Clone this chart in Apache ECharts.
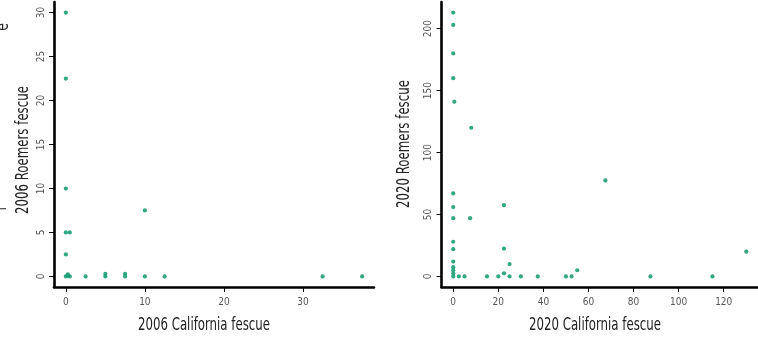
<!DOCTYPE html>
<html>
<head>
<meta charset="utf-8">
<script src="https://cdn.jsdelivr.net/npm/echarts@6/dist/echarts.min.js"></script>
<style>
  html, body { margin: 0; padding: 0; background: #fff; }
  #chart { width: 758px; height: 338px; }
</style>
</head>
<body>
<div id="chart"></div>
<script>
// 2006 survey: California fescue vs Roemers fescue cover
const x2006 = [0, 0, 0, 0, 0.5, 0, 0, 0.25, 0.5, 0.25, 2.5, 5, 5, 7.5, 7.5, 10, 12.5, 32.5, 37.5, 10];
const y2006 = [30, 22.5, 10, 5, 5, 2.5, 0, 0.25, 0, 0.1, 0, 0, 0.3, 0, 0.3, 0, 0, 0, 0, 7.5];

// 2020 survey
const x2020 = [0, 0, 0, 0, 0.5, 8, 0, 0, 0, 7.5, 0, 0, 0, 0, 0, 0, 0, 2.5, 5, 15, 20,
               22.5, 22.5, 22.5, 25, 25, 30, 37.5, 50, 52.5, 55, 67.5, 87.5, 115, 130];
const y2020 = [213, 203, 180, 160, 141, 120, 67, 56, 47, 47, 28, 22, 12, 7.5, 5, 2.5, 0, 0, 0, 0, 0,
               57.5, 22.5, 2.5, 10, 0, 0, 0, 0, 0, 5, 77.5, 0, 0, 20];

// Tick positions
const xTicks2006 = [0, 10, 20, 30];
const yTicks2006 = [0, 5, 10, 15, 20, 25, 30];
const xTicks2020 = [0, 20, 40, 60, 80, 100, 120];
const yTicks2020 = [0, 50, 100, 150, 200];

// Axis titles
const titles = {
  x2006: '2006 California fescue',
  y2006: '2006 Roemers fescue',
  x2020: '2020 California fescue',
  y2020: '2020 Roemers fescue'
};

const FONT = "'DejaVu Sans Condensed', 'Liberation Sans', sans-serif";
const POINT = '#1B9E77';
const TITLE_FONT = '17px ' + FONT;
const SQUEEZE = 0.77;   // narrow the title lettering

// R-style padded range: 4% on each side of the data range
function padded(arr) {
  const lo = Math.min(...arr), hi = Math.max(...arr);
  const d = (hi - lo) * 0.04;
  return [lo - d, hi + d];
}

function xAxis(gridIndex, vals, ticks) {
  const [mn, mx] = padded(vals);
  return {
    type: 'value', gridIndex, min: mn, max: mx,
    splitLine: { show: false },
    axisLine: { show: true, onZero: false, lineStyle: { color: '#000', width: 2.6 } },
    axisTick: { show: true, length: 5, customValues: ticks, lineStyle: { color: '#000', width: 1 } },
    axisLabel: { customValues: ticks, color: '#555', fontSize: 10, fontFamily: FONT, margin: 10 }
  };
}

function yAxis(gridIndex, vals, ticks) {
  const [mn, mx] = padded(vals);
  return {
    type: 'value', gridIndex, min: mn, max: mx,
    splitLine: { show: false },
    axisLine: { show: true, onZero: false, lineStyle: { color: '#000', width: 2.6 } },
    axisTick: { show: true, length: 5, customValues: ticks, lineStyle: { color: '#000', width: 1 } },
    axisLabel: { customValues: ticks, rotate: 90, color: '#555', fontSize: 10, fontFamily: FONT, margin: 8 }
  };
}

function pairs(xs, ys) {
  return xs.map((x, i) => [x, ys[i]]);
}

function title(text, x, y, vertical) {
  return {
    type: 'text', x, y, scaleX: SQUEEZE,
    rotation: vertical ? Math.PI / 2 : 0,
    style: { text, font: TITLE_FONT, fill: '#222', align: 'center', verticalAlign: 'middle' }
  };
}

const chart = echarts.init(document.getElementById('chart'), null, { renderer: 'canvas' });

chart.setOption({
  animation: false,
  backgroundColor: '#fff',
  grid: [
    { left: 54, top: 2, width: 320, height: 285 },
    { left: 441.5, top: 2, width: 321, height: 285 }
  ],
  xAxis: [xAxis(0, x2006, xTicks2006), xAxis(1, x2020, xTicks2020)],
  yAxis: [yAxis(0, y2006, yTicks2006), yAxis(1, y2020, yTicks2020)],
  series: [
    {
      type: 'scatter', xAxisIndex: 0, yAxisIndex: 0,
      data: pairs(x2006, y2006), symbolSize: 4.2,
      itemStyle: { color: POINT, opacity: 0.9 }
    },
    {
      type: 'scatter', xAxisIndex: 1, yAxisIndex: 1,
      data: pairs(x2020, y2020), symbolSize: 4.2,
      itemStyle: { color: POINT, opacity: 0.9 }
    }
  ],
  graphic: [
    title(titles.x2006, 204, 326, false),
    title(titles.x2020, 595, 326, false),
    title(titles.y2006, 24, 150, true),
    title(titles.y2020, 405, 144, true),
    // fragments of a neighbouring panel's labels at the left edge
    { type: 'text', x: 3, y: 27, rotation: Math.PI / 2, scaleX: SQUEEZE, style: { text: 'e', font: '18px ' + FONT, fill: '#222', align: 'center', verticalAlign: 'middle' } },
    { type: 'text', x: 1, y: 208, rotation: Math.PI / 2, scaleX: SQUEEZE, style: { text: 'r', font: '18px ' + FONT, fill: '#222', align: 'center', verticalAlign: 'middle' } }
  ]
});
</script>
</body>
</html>
